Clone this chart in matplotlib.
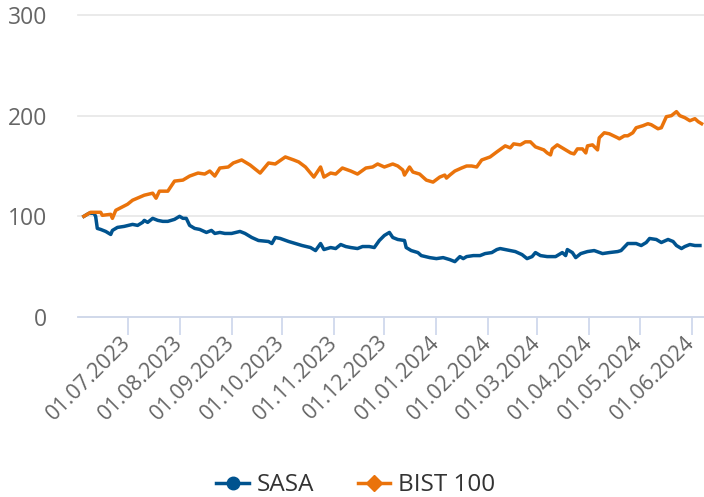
import matplotlib
matplotlib.use("Agg")
import matplotlib.pyplot as plt
import matplotlib.dates as mdates
from matplotlib.lines import Line2D
import pandas as pd

# ---- data ----
sasa_dates = ["2023-06-05","2023-06-08","2023-06-11","2023-06-12","2023-06-13","2023-06-15","2023-06-18",
    "2023-06-21","2023-06-22","2023-06-25","2023-06-29","2023-07-04","2023-07-07","2023-07-10","2023-07-11",
    "2023-07-13","2023-07-16","2023-07-19","2023-07-22","2023-07-25","2023-07-29","2023-08-01","2023-08-03",
    "2023-08-05","2023-08-07","2023-08-10","2023-08-13","2023-08-17","2023-08-20","2023-08-22","2023-08-25",
    "2023-08-28","2023-09-01","2023-09-06","2023-09-09","2023-09-13","2023-09-17","2023-09-23","2023-09-25",
    "2023-09-27","2023-09-30","2023-10-05","2023-10-09","2023-10-13","2023-10-18","2023-10-21","2023-10-24",
    "2023-10-26","2023-10-30","2023-11-02","2023-11-05","2023-11-08","2023-11-11","2023-11-15","2023-11-18",
    "2023-11-22","2023-11-25","2023-11-28","2023-12-01","2023-12-04","2023-12-06","2023-12-09","2023-12-13",
    "2023-12-14","2023-12-17","2023-12-21","2023-12-23","2023-12-28","2024-01-01","2024-01-05","2024-01-09",
    "2024-01-12","2024-01-15","2024-01-17","2024-01-19","2024-01-23","2024-01-27","2024-01-30","2024-02-03",
    "2024-02-06","2024-02-08","2024-02-17","2024-02-21","2024-02-24","2024-02-27","2024-02-29","2024-03-03",
    "2024-03-07","2024-03-12","2024-03-16","2024-03-18","2024-03-19","2024-03-22","2024-03-24","2024-03-27",
    "2024-03-31","2024-04-04","2024-04-09","2024-04-13","2024-04-18","2024-04-20","2024-04-24","2024-04-27",
    "2024-04-29","2024-05-02","2024-05-05","2024-05-07","2024-05-11","2024-05-14","2024-05-18","2024-05-21",
    "2024-05-23","2024-05-26","2024-05-28","2024-05-31","2024-06-03","2024-06-06"]
sasa_values = [100,103,103,100,88,87,85,82,86,89,90,92,91,94,96,94,98,96,95,95,97,100,98,98,91,88,87,84,
    86,83,84,83,83,85,83,79,76,75,73,79,78,75,73,71,69,66,73,67,69,68,72,70,69,68,70,70,69,76,81,84,79,
    77,76,69,66,64,61,59,58,59,57,55,60,58,60,61,61,63,64,67,68,65,62,58,60,64,61,60,60,64,61,67,64,59,
    63,65,66,63,64,65,66,73,73,73,71,74,78,77,74,77,75,71,68,70,72,71,71]

bist_dates = ["2023-06-05","2023-06-09","2023-06-15","2023-06-16","2023-06-21","2023-06-22","2023-06-24",
    "2023-07-01","2023-07-04","2023-07-11","2023-07-16","2023-07-18","2023-07-20","2023-07-25","2023-07-29",
    "2023-08-03","2023-08-07","2023-08-12","2023-08-16","2023-08-19","2023-08-22","2023-08-25","2023-08-30",
    "2023-09-02","2023-09-07","2023-09-12","2023-09-18","2023-09-23","2023-09-27","2023-10-03","2023-10-08",
    "2023-10-11","2023-10-15","2023-10-20","2023-10-24","2023-10-26","2023-10-30","2023-11-02","2023-11-06",
    "2023-11-11","2023-11-15","2023-11-20","2023-11-24","2023-11-27","2023-12-01","2023-12-06","2023-12-09",
    "2023-12-12","2023-12-13","2023-12-16","2023-12-18","2023-12-22","2023-12-26","2023-12-30","2024-01-03",
    "2024-01-06","2024-01-07","2024-01-09","2024-01-12","2024-01-16","2024-01-19","2024-01-22","2024-01-25",
    "2024-01-28","2024-02-02","2024-02-06","2024-02-11","2024-02-14","2024-02-16","2024-02-20","2024-02-23",
    "2024-02-26","2024-02-29","2024-03-05","2024-03-07","2024-03-09","2024-03-10","2024-03-13","2024-03-18",
    "2024-03-21","2024-03-23","2024-03-25","2024-03-28","2024-03-30","2024-03-31","2024-04-03","2024-04-06",
    "2024-04-07","2024-04-10","2024-04-13","2024-04-18","2024-04-19","2024-04-22","2024-04-24","2024-04-27",
    "2024-04-29","2024-05-03","2024-05-06","2024-05-08","2024-05-10","2024-05-12","2024-05-14","2024-05-17",
    "2024-05-20","2024-05-23","2024-05-25","2024-05-28","2024-05-31","2024-06-03","2024-06-05","2024-06-07"]
bist_values = [100,104,104,101,102,98,106,112,116,121,123,118,125,125,135,136,140,143,142,145,140,148,149,
    153,156,151,143,153,152,159,156,154,149,139,149,139,143,142,148,145,142,148,149,152,149,152,150,146,
    141,149,144,142,136,134,139,141,138,141,145,148,150,150,149,156,159,164,170,168,172,171,174,174,169,
    166,163,161,167,171,166,163,162,167,167,163,170,171,166,178,183,182,178,177,180,180,183,188,190,192,
    191,189,187,188,199,200,204,200,198,195,197,194,192]

series_names = ["SASA", "BIST 100"]
y_ticks = [0, 100, 200, 300]

# ---- styling ----
BLUE = "#00538f"
ORANGE = "#ea730b"
plt.rcParams["font.family"] = ["Open Sans", "DejaVu Sans"]

fig = plt.figure(figsize=(7.04, 4.97), dpi=100)
ax = fig.add_axes([78 / 704, (497 - 317) / 497, (704 - 78) / 704, 302 / 497])

sd = pd.to_datetime(sasa_dates)
bd = pd.to_datetime(bist_dates)
ax.plot(sd, sasa_values, color=BLUE, lw=2.5, solid_joinstyle="round", zorder=3)
ax.plot(bd, bist_values, color=ORANGE, lw=2.5, solid_joinstyle="round", zorder=3)

ax.set_ylim(0, 300)
ax.set_xlim(pd.Timestamp("2023-06-01 12:00"), pd.Timestamp("2024-06-08 10:00"))
ax.set_yticks(y_ticks)
ax.yaxis.grid(True, color="#e6e6e6", lw=1.2)
ax.xaxis.grid(False)
for gl in ax.get_ygridlines():
    gl.set_clip_on(False)
ax.set_axisbelow(True)

for s in ["top", "right", "left"]:
    ax.spines[s].set_visible(False)
ax.spines["bottom"].set_color("#ccd6eb")
ax.spines["bottom"].set_linewidth(1.2)

ax.tick_params(axis="y", length=0, pad=22, labelsize=16.5, labelcolor="#666666")
ax.xaxis.set_major_locator(mdates.MonthLocator(bymonthday=1))
ax.xaxis.set_major_formatter(mdates.DateFormatter("%d.%m.%Y"))
ax.tick_params(axis="x", length=13, width=1.2, color="#ccd6eb", pad=3,
               labelsize=15.5, labelcolor="#666666")
for lab in ax.get_xticklabels():
    lab.set_rotation(45)
    lab.set_ha("right")
    lab.set_va("center")
    lab.set_rotation_mode("anchor")

handles = [
    Line2D([], [], color=BLUE, lw=2.5, marker="o", markersize=9),
    Line2D([], [], color=ORANGE, lw=2.5, marker="D", markersize=8),
]
fig.legend(handles, series_names, loc="center", bbox_to_anchor=(0.505, 0.024), ncol=2,
           frameon=False, fontsize=17.5, labelcolor="#333333", handlelength=1.35,
           handletextpad=0.3, columnspacing=1.8)

fig.savefig("out.png", dpi=100)
